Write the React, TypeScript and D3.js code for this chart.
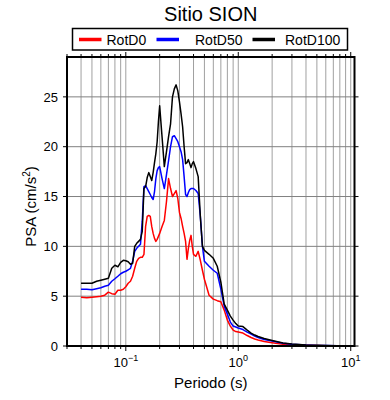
import React from 'react';
import * as d3 from 'd3';

// Response spectra, three rotations. Periods in s, PSA in cm/s^2.

const periods = [
  0.04, 0.045, 0.05, 0.055, 0.06, 0.065, 0.07, 0.075, 0.08, 0.085, 0.09, 0.095,
  0.1, 0.105, 0.11, 0.115, 0.12, 0.125, 0.13, 0.135, 0.14, 0.145, 0.15, 0.155,
  0.16, 0.165, 0.17, 0.175, 0.18, 0.185, 0.19, 0.195, 0.2, 0.21, 0.22, 0.23,
  0.24, 0.25, 0.26, 0.27, 0.28, 0.29, 0.3, 0.31, 0.32, 0.33, 0.34, 0.35, 0.36,
  0.37, 0.38, 0.39, 0.4, 0.42, 0.44, 0.46, 0.48, 0.5, 0.55, 0.6, 0.65, 0.7,
  0.75, 0.8, 0.85, 0.9, 0.95, 1.0, 1.1, 1.2, 1.3, 1.4, 1.5, 1.7, 2.0, 2.5, 3.0,
  4.0, 5.0, 6.0, 7.5, 10.0,
];

const rotD0 = [
  4.9, 4.85, 4.9, 4.95, 5.0, 5.1, 5.4, 5.25, 5.2, 5.6, 5.6, 5.7,
  5.95, 6.3, 6.5, 7.0, 7.8, 8.5, 8.8, 8.9, 8.9, 9.2, 12.0, 13.0,
  13.1, 13.0, 12.0, 11.3, 10.8, 10.5, 10.7, 11.0, 11.3, 12.0, 12.6, 14.5,
  16.8, 15.8, 15.0, 15.3, 15.6, 14.8, 13.4, 12.8, 12.0, 11.3, 10.5, 8.7, 9.8,
  10.6, 11.1, 10.0, 9.2, 9.0, 9.5, 8.6, 7.6, 6.7, 5.1, 4.7, 4.55, 4.45,
  3.6, 2.6, 2.0, 1.6, 1.45, 1.4, 1.3, 1.05, 0.85, 0.7, 0.6, 0.45, 0.33, 0.18, 0.12,
  0.07, 0.05, 0.03, 0.02, 0.02,
];

const rotD50 = [
  5.7, 5.7, 5.65, 5.75, 5.85, 6.0, 6.1, 6.5, 6.75, 7.0, 7.25, 7.4,
  7.5, 7.65, 7.8, 8.5, 9.5, 9.8, 10.0, 10.2, 12.5, 16.0, 16.1, 15.8,
  15.5, 15.2, 14.9, 14.7, 15.5, 16.8, 17.6, 17.9, 18.0, 16.8, 15.8, 17.2,
  18.6, 20.0, 21.0, 21.1, 20.8, 20.5, 20.0, 19.5, 18.7, 17.0, 15.2, 15.0, 15.4,
  15.7, 15.8, 15.8, 15.8, 15.6, 15.3, 13.0, 10.0, 8.5, 8.0, 7.6, 7.3, 5.7,
  4.0, 3.2, 2.4, 2.0, 1.9, 1.8, 1.65, 1.4, 1.2, 1.0, 0.85, 0.65, 0.5, 0.27, 0.17,
  0.09, 0.06, 0.04, 0.03, 0.02,
];

const rotD100 = [
  6.3, 6.3, 6.3, 6.5, 6.6, 6.7, 6.8, 7.8, 8.1, 7.95, 8.4, 8.6,
  8.55, 8.45, 8.2, 8.3, 10.0, 10.3, 10.5, 10.7, 11.5, 15.8, 16.0, 16.9,
  17.4, 17.0, 16.6, 17.4, 18.4, 19.3, 20.5, 22.5, 24.1, 21.0, 18.0, 19.5,
  21.0, 22.3, 25.0, 25.8, 26.2, 25.6, 24.5, 23.3, 22.0, 20.0, 18.3, 18.4, 18.7,
  18.3, 17.9, 18.3, 18.5, 17.8, 17.0, 13.0, 10.0, 9.6, 9.2, 8.8, 8.0, 6.4,
  4.2, 3.6, 3.0, 2.6, 2.25, 2.0, 1.95, 1.6, 1.3, 1.1, 0.95, 0.75, 0.55, 0.3, 0.2,
  0.1, 0.07, 0.05, 0.03, 0.02,
];

const seriesNames = ['RotD0', 'RotD50', 'RotD100'];
const seriesColors = ['#ff0000', '#0000ff', '#000000'];
const seriesValues = [rotD0, rotD50, rotD100];

const yTicks = [0, 5, 10, 15, 20, 25];
const xMajorLabels = [
  { value: 0.1, exp: '\u22121' },
  { value: 1, exp: '0' },
  { value: 10, exp: '1' },
];

const W = 390;
const H = 400;
const LEFT = 67;
const RIGHT = 354.5;
const TOP = 57;
const BOTTOM = 346;
const FONT = '"Liberation Sans", Arial, Helvetica, sans-serif';

export default function App() {
  const x = d3.scaleLog().domain([0.03, 10.8]).range([LEFT, RIGHT]);
  const y = d3.scaleLinear().domain([0, 29]).range([BOTTOM, TOP]);

  // every 1..9 multiple inside the domain
  const xTicks: number[] = [];
  for (let e = -2; e <= 1; e++) {
    for (let m = 1; m <= 9; m++) {
      const v = m * Math.pow(10, e);
      if (v >= 0.03 - 1e-9 && v <= 10.8) xTicks.push(+v.toPrecision(3));
    }
  }
  const isMajor = (v: number) => Math.abs(Math.log10(v) - Math.round(Math.log10(v))) < 1e-6;

  const line = d3.line<number>()
    .x((_, i) => x(periods[i]))
    .y(d => y(d));

  const legendItems = [
    { lx: 79, tx: 106.5 },
    { lx: 156.5, tx: 195 },
    { lx: 252.5, tx: 285 },
  ];

  return (
    <svg width={W} height={H} style={{ position: 'absolute', left: 0, top: 0 }}
      fontFamily={FONT}>
      <rect width={W} height={H} fill="#fff" />
      <defs>
        <clipPath id="plot-clip">
          <rect x={LEFT} y={TOP} width={RIGHT - LEFT} height={BOTTOM - TOP} />
        </clipPath>
      </defs>

      {/* grid */}
      <g>
        {xTicks.filter(v => v > 0.031 && v < 10.7).map(v => (
          <line key={'gx' + v} x1={x(v)} x2={x(v)} y1={TOP} y2={BOTTOM}
            stroke="#a0a0a0" strokeWidth={1} />
        ))}
        {yTicks.filter(v => v > 0).map(v => (
          <line key={'gy' + v} x1={LEFT} x2={RIGHT} y1={y(v)} y2={y(v)}
            stroke="#808080" strokeWidth={1} />
        ))}
      </g>

      {/* curves */}
      <g clipPath="url(#plot-clip)">
        {seriesValues.map((vals, i) => (
          <path key={seriesNames[i]} d={line(vals) || ''} fill="none"
            stroke={seriesColors[i]} strokeWidth={1.5} strokeLinejoin="round" />
        ))}
      </g>

      {/* ticks */}
      <g stroke="#000" strokeWidth={1}>
        {xTicks.map(v => {
          const len = isMajor(v) ? 5 : 3;
          return (
            <g key={'tx' + v}>
              <line x1={x(v)} x2={x(v)} y1={BOTTOM} y2={BOTTOM + len} />
              <line x1={x(v)} x2={x(v)} y1={TOP} y2={TOP - len} />
            </g>
          );
        })}
        {yTicks.map(v => (
          <g key={'ty' + v}>
            <line x1={LEFT - 4} x2={LEFT} y1={y(v)} y2={y(v)} />
            <line x1={RIGHT} x2={RIGHT + 4} y1={y(v)} y2={y(v)} />
          </g>
        ))}
      </g>

      {/* frame */}
      <rect x={LEFT} y={TOP} width={RIGHT - LEFT} height={BOTTOM - TOP}
        fill="none" stroke="#000" strokeWidth={2} />

      {/* y tick labels */}
      {yTicks.map(v => (
        <text key={'ly' + v} x={LEFT - 9} y={y(v)} dy="0.36em" textAnchor="end"
          fontSize={13} fill="#000">{v}</text>
      ))}

      {/* x tick labels */}
      {xMajorLabels.map(d => (
        <text key={'lx' + d.value} x={x(d.value)} y={367} textAnchor="middle"
          fontSize={13} fill="#000">
          10<tspan dy={-6} fontSize={9}>{d.exp}</tspan>
        </text>
      ))}

      {/* axis titles */}
      <text x={(LEFT + RIGHT) / 2} y={388} textAnchor="middle" fontSize={15}>Periodo (s)</text>
      <text transform={`translate(36,${(TOP + BOTTOM) / 2 + 5}) rotate(-90)`}
        textAnchor="middle" fontSize={15}>
        PSA (cm/s<tspan dy={-6} fontSize={10}>2</tspan><tspan dy={6}>)</tspan>
      </text>

      {/* title */}
      <text x={(LEFT + RIGHT) / 2} y={21} textAnchor="middle" fontSize={20}>Sitio SION</text>

      {/* legend */}
      <rect x={72.5} y={28.5} width={275} height={21.5} fill="#fff" stroke="#000" strokeWidth={1.5} />
      {legendItems.map((it, i) => (
        <g key={'lg' + i}>
          <line x1={it.lx} x2={it.lx + 22.5} y1={39.5} y2={39.5}
            stroke={seriesColors[i]} strokeWidth={3.5} />
          <text x={it.tx} y={39.5} dy="0.36em" fontSize={14}>{seriesNames[i]}</text>
        </g>
      ))}
    </svg>
  );
}
